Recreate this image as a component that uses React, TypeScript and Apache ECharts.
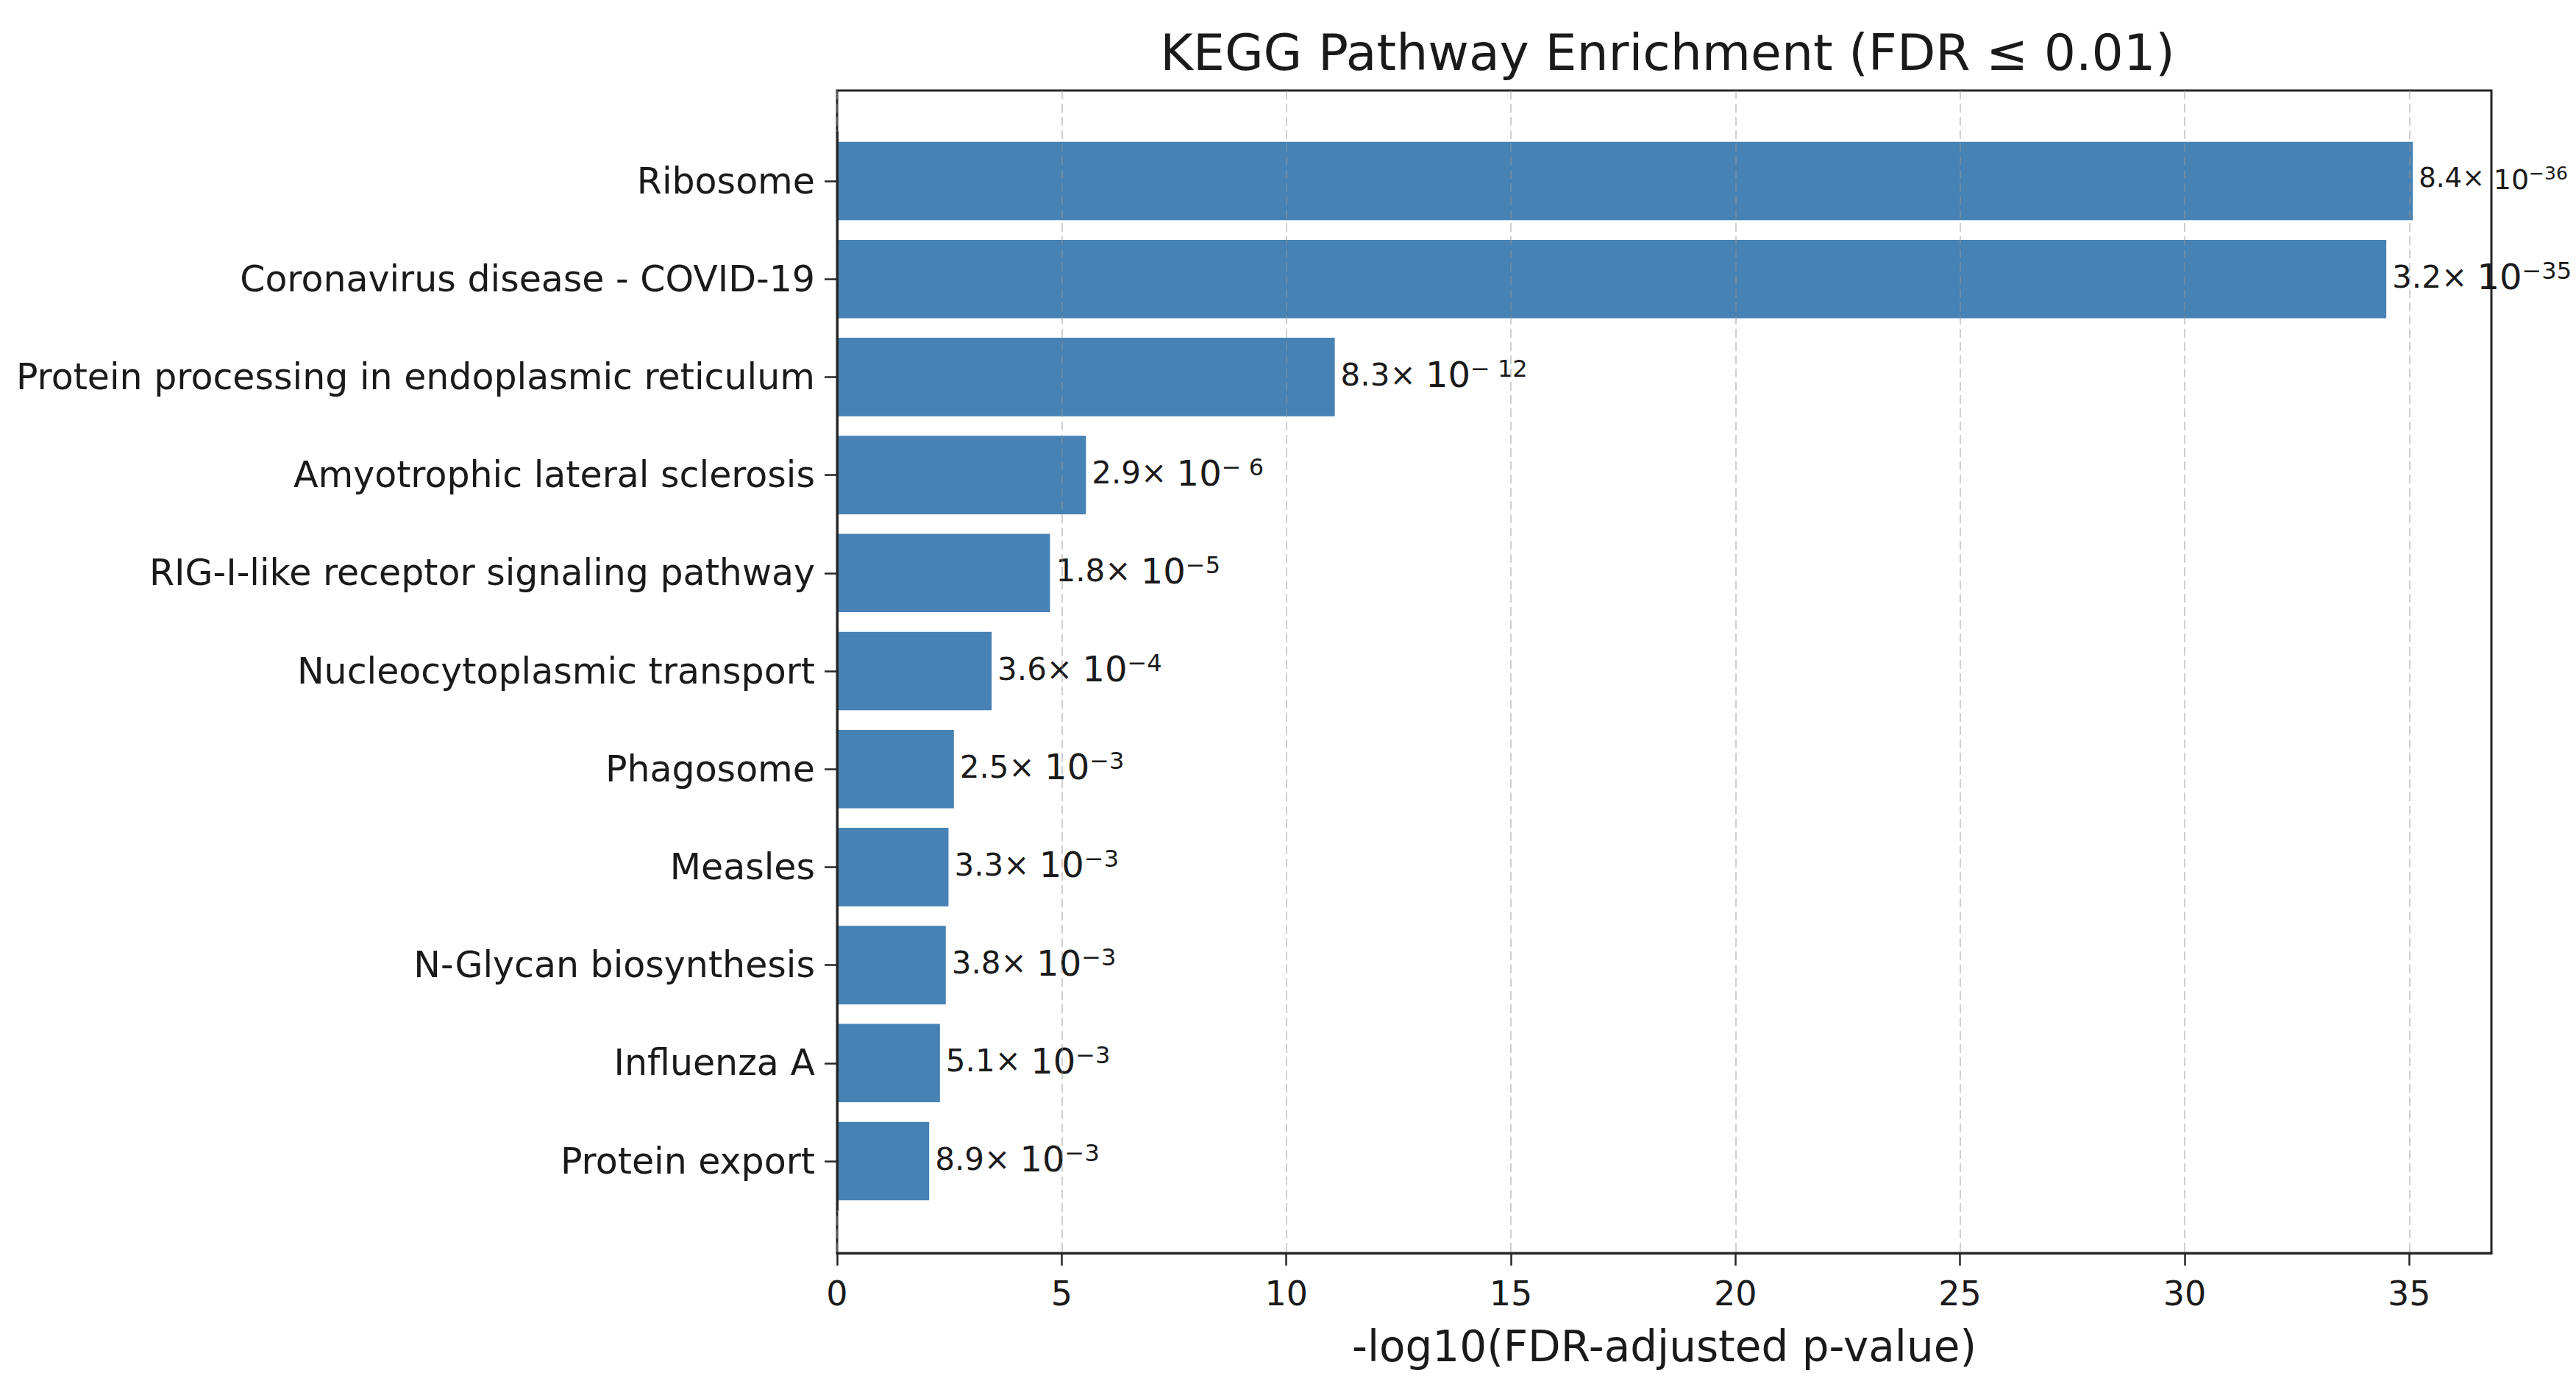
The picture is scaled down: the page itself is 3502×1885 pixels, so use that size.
import React, { useEffect, useRef } from "react";
import * as echarts from "echarts";

// pathways, top to bottom
const pathways = [
  "Ribosome",
  "Coronavirus disease - COVID-19",
  "Protein processing in endoplasmic reticulum",
  "Amyotrophic lateral sclerosis",
  "RIG-I-like receptor signaling pathway",
  "Nucleocytoplasmic transport",
  "Phagosome",
  "Measles",
  "N-Glycan biosynthesis",
  "Influenza A",
  "Protein export",
];

// -log10(FDR)
const scores = [35.08, 34.49, 11.08, 5.54, 4.74, 3.44, 2.6, 2.48, 2.42, 2.29, 2.05];

// FDR shown next to each bar: mantissa × 10^exponent
const mantissas = ["8.4", "3.2", "8.3", "2.9", "1.8", "3.6", "2.5", "3.3", "3.8", "5.1", "8.9"];
const exponents = ["−36", "−35", "− 12", "− 6", "−5", "−4", "−3", "−3", "−3", "−3", "−3"];

const xTicks = [0, 5, 10, 15, 20, 25, 30, 35];
const xMax = 36.83;

const FONT = "DejaVu Sans";
const INK = "#1a1a1a";

const App: React.FC = () => {
  const chartRef = useRef<HTMLDivElement>(null);

  useEffect(() => {
    if (!chartRef.current) return;
    const chart = echarts.init(chartRef.current, undefined, { renderer: "svg" });

    const option = {
      animation: false,
      backgroundColor: "#ffffff",
      textStyle: { fontFamily: FONT, color: INK },
      title: {
        text: "KEGG Pathway Enrichment (FDR ≤ 0.01)",
        left: 2262,
        textAlign: "center",
        top: 32,
        textStyle: { fontFamily: FONT, fontSize: 68, fontWeight: "normal", color: INK },
      },
      grid: [
        // frame + x axis
        {
          left: 1138,
          right: 115,
          top: 123,
          bottom: 182,
          show: true,
          borderColor: "#262626",
          borderWidth: 3,
          backgroundColor: "transparent",
        },
        // bars
        { left: 1138, right: 115, top: 179.4, bottom: 240.4 },
      ],
      xAxis: [
        {
          type: "value",
          gridIndex: 0,
          min: 0,
          max: xMax,
          z: 3,
          name: "-log10(FDR-adjusted p-value)",
          nameLocation: "middle",
          nameGap: 98,
          nameTextStyle: { fontFamily: FONT, fontSize: 58, color: INK },
          axisLine: { show: true, lineStyle: { color: "#262626", width: 3 } },
          axisTick: {
            show: true,
            length: 17,
            customValues: xTicks,
            lineStyle: { color: "#262626", width: 2.5 },
          },
          axisLabel: {
            customValues: xTicks,
            margin: 32,
            fontSize: 46,
            color: INK,
            fontFamily: FONT,
          },
          splitLine: {
            show: true,
            lineStyle: { color: "rgba(150,150,150,0.45)", width: 2, type: [12, 6] },
          },
        },
        {
          type: "value",
          gridIndex: 1,
          min: 0,
          max: xMax,
          show: false,
        },
      ],
      yAxis: [
        { type: "value", gridIndex: 0, show: false, min: 0, max: 1 },
        {
          type: "category",
          gridIndex: 1,
          inverse: true,
          data: pathways,
          z: 3,
          axisLine: { show: true, lineStyle: { color: "#262626", width: 3 } },
          axisTick: {
            show: true,
            alignWithLabel: true,
            length: 17,
            lineStyle: { color: "#262626", width: 2.5 },
          },
          axisLabel: {
            margin: 30,
            fontSize: 49,
            color: INK,
            fontFamily: FONT,
            padding: [8, 0, 0, 0],
          },
          splitLine: { show: false },
        },
      ],
      series: [
        {
          type: "bar",
          xAxisIndex: 1,
          yAxisIndex: 1,
          data: scores,
          barCategoryGap: "20%",
          itemStyle: { color: "#4682b4" },
          label: {
            show: true,
            position: "right",
            distance: 8,
            offset: [0, -3],
            color: INK,
            formatter: (p: { dataIndex: number }) => {
              // the top label sits against the page edge, drawn smaller there
              const k = p.dataIndex === 0 ? "2" : "";
              return `{n${k}|${mantissas[p.dataIndex]}× }{t${k}|10}{s${k}|${exponents[p.dataIndex]}}`;
            },
            rich: {
              n: { fontSize: 42, fontFamily: FONT, color: INK, verticalAlign: "bottom", padding: [0, 0, 3, 0] },
              t: { fontSize: 48, fontFamily: FONT, color: INK, verticalAlign: "bottom" },
              s: { fontSize: 32, fontFamily: FONT, color: INK, verticalAlign: "top" },
              n2: { fontSize: 37, fontFamily: FONT, color: INK, verticalAlign: "bottom", padding: [0, 0, 3, 0] },
              t2: { fontSize: 38, fontFamily: FONT, color: INK, verticalAlign: "bottom" },
              s2: { fontSize: 25, fontFamily: FONT, color: INK, verticalAlign: "top" },
            },
          },
        },
      ],
    };

    chart.setOption(option);

    const handleResize = () => chart.resize();
    window.addEventListener("resize", handleResize);
    return () => {
      window.removeEventListener("resize", handleResize);
      chart.dispose();
    };
  }, []);

  return (
    <div
      ref={chartRef}
      style={{ position: "absolute", left: 0, top: 0, width: "3502px", height: "1885px" }}
    ></div>
  );
};

export default App;
